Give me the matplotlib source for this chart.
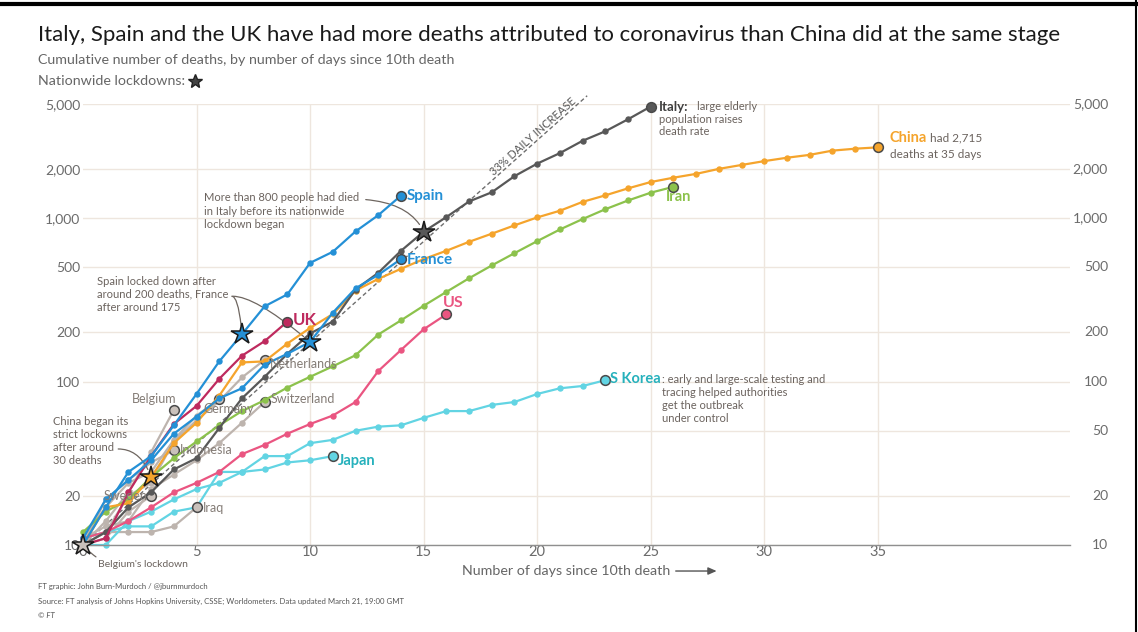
import numpy as np
import matplotlib.pyplot as plt
import matplotlib.transforms as mtransforms
from matplotlib.lines import Line2D
from matplotlib.ticker import NullLocator

plt.rcParams['font.family'] = ['Lato', 'DejaVu Sans']

# cumulative deaths, one value per day since the 10th death
italy = [10, 12, 17, 21, 29, 34, 52, 79, 107, 148, 197, 233, 366, 463, 631, 827,
         1016, 1266, 1441, 1809, 2158, 2503, 2978, 3405, 4032, 4825]
spain = [10, 17, 28, 35, 54, 84, 133, 195, 289, 342, 533, 623, 830, 1043, 1375]
france = [11, 19, 25, 33, 48, 61, 79, 91, 127, 148, 175, 264, 372, 450, 562]
uk = [10, 11, 21, 35, 55, 71, 104, 144, 177, 233]
us = [11, 12, 14, 17, 21, 24, 28, 36, 41, 48, 55, 62, 75, 116, 156, 209, 258]
china = [10, 17, 18, 26, 42, 56, 82, 131, 133, 171, 213, 259, 361, 425, 490, 562,
         632, 717, 804, 904, 1011, 1111, 1259, 1380, 1523, 1665, 1770, 1868, 2004,
         2118, 2236, 2345, 2442, 2592, 2663, 2715]
iran = [12, 16, 19, 26, 34, 43, 54, 66, 77, 92, 107, 124, 145, 194, 237, 291, 354,
        429, 514, 611, 724, 853, 988, 1135, 1284, 1433, 1556]
s_korea = [11, 12, 13, 13, 16, 17, 28, 28, 35, 35, 42, 44, 50, 53, 54, 60, 66, 66,
           72, 75, 84, 91, 94, 102]
japan = [10, 10, 14, 16, 19, 22, 24, 28, 29, 32, 33, 35]

belgium = [10, 14, 21, 37, 67]
netherlands = [10, 12, 20, 24, 43, 58, 76, 106, 136]
germany = [11, 17, 24, 28, 44, 62, 78]
switzerland = [11, 13, 14, 22, 27, 33, 42, 56, 75]
indonesia = [10, 19, 25, 32, 38]
sweden = [10, 11, 16, 20]
iraq = [10, 12, 12, 12, 13, 17]

# day of nationwide lockdown (index into the series)
lockdown_day = {'Italy': 15, 'Spain': 7, 'France': 10, 'China': 3, 'Belgium': 0}

y_ticks = [10, 20, 50, 100, 200, 500, 1000, 2000, 5000]
x_ticks = [0, 5, 10, 15, 20, 25, 30, 35]
daily_growth = 1.33
guide_end_day = 22.2

# colours
BLUE = '#2490d6'
CLARET = '#be2a5e'
PINK = '#ea5581'
ORANGE = '#f5a42c'
DARK = '#585858'
GREEN = '#8cc24c'
CYAN = '#62d4e3'
TEAL = '#26b1bc'
GREY = '#bdb4ae'
GREY_FILL = '#c9c1bb'
GREY_TXT = '#847c76'
NOTE = '#6b635e'

W, H = 1138, 632
fig = plt.figure(figsize=(W / 100, H / 100), dpi=100)
fig.patch.set_facecolor('white')
ax = fig.add_axes([83 / W, (H - 545) / H, (1070 - 83) / W, (545 - 104) / H])
ax.set_yscale('log')
ax.set_xlim(0, (1070 - 83) / 22.71)
ax.set_ylim(10, 5000)

# the left axis leaves out 50, where the China note sits
ax.set_yticks(y_ticks)
ax.set_yticklabels(['' if v == 50 else f'{v:,}' for v in y_ticks])
ax.yaxis.set_minor_locator(NullLocator())
ax.set_xticks(x_ticks)
ax.tick_params(axis='y', length=0, pad=2, labelsize=10, labelcolor='#6b6b6b')
ax.tick_params(axis='x', length=0, pad=0, labelsize=10.5, labelcolor='#6b6b6b')
for s in ['top', 'right', 'left']:
    ax.spines[s].set_visible(False)
ax.spines['bottom'].set_color('#8f8f8f')
ax.spines['bottom'].set_linewidth(1)
ax.grid(True, color='#eee6de', lw=1)
ax.set_axisbelow(True)
ax.xaxis.get_gridlines()[0].set_visible(False)

# right-hand axis labels
rt = mtransforms.blended_transform_factory(ax.transAxes, ax.transData)
for v in y_ticks:
    ax.text(1 + 38 / 987, v, f'{v:,}', transform=rt, ha='right', va='center',
            fontsize=10, color='#6b6b6b')


def draw(vals, color, z=3, end_fill=None):
    d = np.arange(len(vals))
    ax.plot(d, vals, color=color, lw=1.6, marker='o', ms=3.6, zorder=z, clip_on=False)
    ax.plot(d[-1], vals[-1], 'o', ms=7, mfc=end_fill or color, mec='#4a4a4a',
            mew=1.1, zorder=z + 0.5, clip_on=False)


# guide: 33% daily increase
g_days = np.array([0, guide_end_day])
ax.plot(g_days, 10 * daily_growth ** g_days, color='#6e6e6e', lw=1, ls=(0, (3, 2)),
        zorder=2, clip_on=False)

for vals in [belgium, netherlands, germany, switzerland, indonesia, sweden, iraq]:
    draw(vals, GREY, z=2.2, end_fill=GREY_FILL)
draw(japan, CYAN, z=2.5)
draw(s_korea, CYAN, z=2.5)
draw(us, PINK, z=3)
draw(iran, GREEN, z=3)
draw(china, ORANGE, z=3.2)
draw(italy, DARK, z=3.4)
draw(france, BLUE, z=3.6)
draw(uk, CLARET, z=3.5)
draw(spain, BLUE, z=3.8)

# lockdown stars
star_series = {'Italy': (italy, DARK), 'Spain': (spain, BLUE), 'France': (france, BLUE),
               'China': (china, ORANGE), 'Belgium': (belgium, GREY_FILL)}
for name, (vals, col) in star_series.items():
    dd = lockdown_day[name]
    ax.plot(dd, vals[dd], marker='*', ms=16, mfc=col, mec='#1a1a1a', mew=1.1,
            zorder=6, clip_on=False)

# guide label
p0 = ax.transData.transform((0, 10))
p1 = ax.transData.transform((20, 10 * daily_growth ** 20))
ang = np.degrees(np.arctan2(p1[1] - p0[1], p1[0] - p0[0]))
ax.text(20.0, 10 * daily_growth ** 20.0, '33% DAILY INCREASE', rotation=ang,
        rotation_mode='anchor', ha='center', va='bottom', fontsize=8,
        color='#555555')


def lab(x, y, s, color, dx, dy, size=10.5, weight='bold', ha='left', va='center'):
    ax.annotate(s, (x, y), xytext=(dx, -dy), textcoords='offset pixels',
                ha=ha, va=va, fontsize=size, fontweight=weight, color=color, zorder=7)


# country labels
lab(14, spain[-1], 'Spain', BLUE, 6, 0, size=11)
lab(14, france[-1], 'France', BLUE, 6, 1, size=11)
lab(9, uk[-1], 'UK', CLARET, 5, -2, size=12)
lab(16, us[-1], 'US', PINK, -3, -11, size=11.5)
lab(26, iran[-1], 'Iran', GREEN, -8, 10, size=10.5)
lab(11, japan[-1], 'Japan', TEAL, 5, 5, size=10.5)
lab(23, s_korea[-1], 'S Korea', TEAL, 5, -1, size=10.5)
lab(23, s_korea[-1], ': early and large-scale testing and', NOTE, 57, -1,
    size=8, weight='normal')
lab(23, s_korea[-1], 'tracing helped authorities\nget the outbreak\nunder control',
    NOTE, 57, 7, size=8, weight='normal', va='top')
lab(25, italy[-1], 'Italy:', '#3f3f3f', 8, 0, size=9.5)
lab(25, italy[-1], 'large elderly', NOTE, 46, 0, size=8, weight='normal')
lab(25, italy[-1], 'population raises\ndeath rate', NOTE, 8, 7, size=8,
    weight='normal', va='top')
lab(35, china[-1], 'China', ORANGE, 12, -9, size=10.5)
lab(35, china[-1], 'had 2,715', NOTE, 52, -9, size=8.5, weight='normal')
lab(35, china[-1], 'deaths at 35 days', NOTE, 12, 7, size=8.5, weight='normal')

lab(4, belgium[-1], 'Belgium', GREY_TXT, 3, -11, size=9, weight='normal', ha='right')
lab(8, netherlands[-1], 'Netherlands', GREY_TXT, 5, 4, size=9, weight='normal')
lab(6, germany[-1], 'Germany', GREY_TXT, -16, 10, size=9, weight='normal')
lab(8, switzerland[-1], 'Switzerland', GREY_TXT, 6, -3, size=9, weight='normal')
lab(4, indonesia[-1], 'Indonesia', GREY_TXT, 6, 0, size=9, weight='normal')
lab(3, sweden[-1], 'Sweden', GREY_TXT, -4, 0, size=9, weight='normal', ha='right')
lab(5, iraq[-1], 'Iraq', GREY_TXT, 6, 1, size=9, weight='normal')

# notes with connectors
conn = dict(arrowstyle='-', color='#6e6660', lw=0.9, shrinkA=0, shrinkB=6)
ax.text(5.33, 1440, 'More than 800 people had died\nin Italy before its nationwide\nlockdown began',
        va='top', ha='left', fontsize=8, color=NOTE, linespacing=1.25)
ax.annotate('', xy=(15, italy[15]), xytext=(12.45, 1300),
            arrowprops=dict(conn, connectionstyle='angle3,angleA=-5,angleB=115'))

ax.text(0.62, 445, 'Spain locked down after\naround 200 deaths, France\nafter around 175',
        va='top', ha='left', fontsize=8, color=NOTE, linespacing=1.25)
ax.annotate('', xy=(7, spain[7]), xytext=(6.55, 333),
            arrowprops=dict(conn, connectionstyle='angle3,angleA=0,angleB=95'))
ax.annotate('', xy=(10, france[10]), xytext=(6.6, 333),
            arrowprops=dict(conn, connectionstyle='angle3,angleA=0,angleB=-40'))

ax.text(-1.32, 62, 'China began its\nstrict lockowns\nafter around\n30 deaths',
        va='top', ha='left', fontsize=8, color=NOTE, linespacing=1.25)
ax.annotate('', xy=(3, china[3]), xytext=(1.55, 38.7),
            arrowprops=dict(conn, connectionstyle='angle3,angleA=0,angleB=110'))

ax.annotate("Belgium's lockdown", xy=(0, 10), xytext=(0.66, 7.55), ha='left',
            va='center', fontsize=7.5, color=NOTE, annotation_clip=False,
            arrowprops=dict(conn, shrinkA=1, shrinkB=4, connectionstyle='arc3,rad=-0.3'))

# x axis title with arrow
ax.text(16.69, 6.93, 'Number of days since 10th death', ha='left', va='center',
        fontsize=10.3, color='#666666')
ax.annotate('', xy=(27.9, 6.93), xytext=(26.1, 6.93), annotation_clip=False,
            arrowprops=dict(arrowstyle='-|>,head_length=0.5,head_width=0.22',
                            color='#555555', lw=1, shrinkA=0, shrinkB=0))

# titles
fig.text(38 / W, 1 - 35 / H,
         'Italy, Spain and the UK have had more deaths attributed to coronavirus than China did at the same stage',
         va='center', ha='left', fontsize=16, color='#1a1a1a')
fig.text(38 / W, 1 - 60 / H, 'Cumulative number of deaths, by number of days since 10th death',
         va='center', ha='left', fontsize=10.3, color='#666666')
fig.text(38 / W, 1 - 81 / H, 'Nationwide lockdowns:', va='center', ha='left',
         fontsize=10.3, color='#666666')
fig.add_artist(Line2D([195 / W], [1 - 81 / H], marker='*', ms=10, color='#444444',
                      mec='#222222', transform=fig.transFigure))

# footer
foot = dict(va='center', fontsize=5.6, color='#555555')
fig.text(38 / W, 1 - 586 / H, 'FT graphic: John Burn-Murdoch / @jburnmurdoch', **foot)
fig.text(38 / W, 1 - 601 / H,
         'Source: FT analysis of Johns Hopkins University, CSSE; Worldometers. Data updated March 21, 19:00 GMT',
         **foot)
fig.text(38 / W, 1 - 615 / H, '© FT', style='italic', **foot)

# screenshot frame
fig.add_artist(Line2D([0, 1], [1 - 4 / H, 1 - 4 / H], color='black', lw=3,
                      transform=fig.transFigure))
fig.add_artist(Line2D([1136 / W, 1136 / W], [0, 1], color='black', lw=1.5,
                      transform=fig.transFigure))

fig.savefig('out.png', dpi=100)
